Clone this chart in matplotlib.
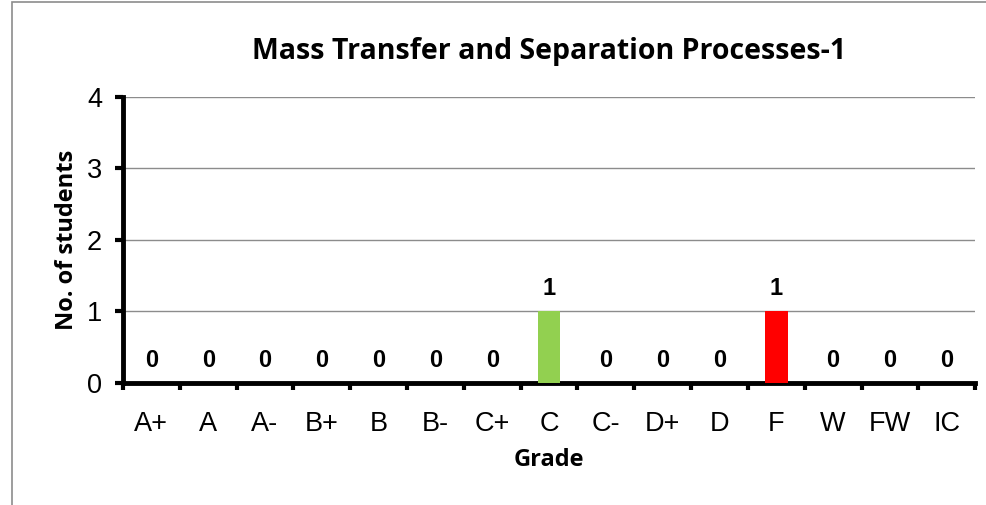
import matplotlib.pyplot as plt
from matplotlib.patches import Rectangle

grades = ['A+', 'A', 'A-', 'B+', 'B', 'B-', 'C+', 'C', 'C-', 'D+', 'D', 'F', 'W', 'FW', 'IC']
counts = [0, 0, 0, 0, 0, 0, 0, 1, 0, 0, 0, 1, 0, 0, 0]
colors = ['#4F81BD'] * 7 + ['#92D050'] + ['#4F81BD'] * 3 + ['#FF0000'] + ['#4F81BD'] * 3

fig = plt.figure(figsize=(9.87, 5.05), dpi=100)
ax = fig.add_axes([0.1246, 0.2416, 0.8634, 0.5664])

# outer chart frame
fig.patches.append(Rectangle((12 / 987, -0.1), 1.2, 1 - 2 / 505 + 0.1, transform=fig.transFigure,
                             fill=False, edgecolor='#8c8c8c', linewidth=1.2))

x = list(range(len(grades)))
ax.bar(x, counts, width=0.4, color=colors, zorder=3)
for xi, c in zip(x, counts):
    ax.annotate(str(c), (xi, c), xytext=(0, 8), textcoords='offset points',
                ha='center', va='bottom', fontsize=17, fontweight='bold',
                family='Liberation Sans')

ax.set_xlim(-0.5, len(grades) - 0.5)
ax.set_ylim(0, 4)
ax.set_yticks([0, 1, 2, 3, 4])
ax.yaxis.grid(True, color='#8c8c8c', linewidth=1.0, zorder=0)
ax.set_xticks(x)
ax.set_xticklabels(grades, family='Liberation Sans', fontsize=19.5)
ax.set_xticks([i - 0.5 for i in range(len(grades) + 1)], minor=True)
ax.tick_params(axis='x', which='major', length=0, pad=20)
ax.tick_params(axis='x', which='minor', length=5, width=3, direction='out')
ax.tick_params(axis='y', length=6, width=3, direction='out', pad=9, labelsize=19.5)
for lab in ax.get_yticklabels():
    lab.set_family('Liberation Sans')

for s in ['top', 'right']:
    ax.spines[s].set_visible(False)
ax.spines['left'].set_linewidth(3.5)
ax.spines['bottom'].set_linewidth(3.5)

ax.set_title('Mass Transfer and Separation Processes-1', fontsize=20.5, fontweight='bold',
             family='Open Sans', pad=27)
ax.set_xlabel('Grade', fontsize=17, fontweight='bold', family='Open Sans', labelpad=8)
ax.set_ylabel('No. of students', fontsize=17, fontweight='bold', family='Open Sans', labelpad=6)

fig.savefig('out.png', dpi=100)
